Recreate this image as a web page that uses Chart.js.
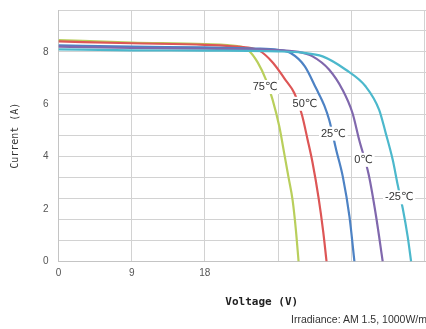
<!DOCTYPE html>
<html>
<head>
<meta charset="utf-8">
<script src="https://cdn.jsdelivr.net/npm/chart.js@4.4.1/dist/chart.umd.min.js"></script>
<style>
  html, body { margin: 0; padding: 0; background: #fff; overflow: hidden; }
  #wrap { position: relative; width: 471px; height: 329px; }
  #note {
    position: absolute; left: 291px; top: 313px;
    font: 10.5px "Liberation Sans", Arial, sans-serif; color: #333;
    white-space: nowrap;
  }
</style>
</head>
<body>
<div id="wrap">
  <canvas id="ivChart" width="471" height="329"></canvas>
  <div id="note">Irradiance: AM 1.5, 1000W/m²</div>
</div>
<script>
// I-V curves at different cell temperatures
const temps = ['75℃', '50℃', '25℃', '0℃', '-25℃'];
const colors = ['#b9cf5c', '#dd5656', '#4d82c4', '#8068ad', '#4cb8cc'];

const v75 = [0, 9, 18, 22, 23.3, 24.5, 25.5, 26.34, 27.16, 27.78, 28.3, 28.79, 29.2, 29.53];
const i75 = [8.45, 8.36, 8.3, 8.22, 8.08, 7.6, 6.95, 6.17, 5.15, 4.1, 3.2, 2.35, 1.2, 0];

const v50 = [0, 9, 18, 22, 24.7, 26.4, 27.8, 29.0, 29.94, 30.64, 31.25, 31.99, 32.56, 32.97];
const i50 = [8.4, 8.33, 8.27, 8.2, 8.05, 7.58, 6.98, 6.43, 5.6, 4.65, 3.77, 2.43, 1.14, 0];

const v25 = [0, 9, 18, 24, 27, 28.6, 30.3, 31.7, 32.7, 33.3, 34.16, 34.97, 35.79, 36.4];
const i25 = [8.25, 8.2, 8.17, 8.13, 8.08, 7.95, 7.45, 6.6, 5.95, 5.4, 4.26, 3.24, 1.71, 0];

const v0 = [0, 9, 18, 26, 29.5, 31.25, 33.3, 34.93, 36.16, 36.98, 38.16, 39.07, 39.88];
const i0 = [8.2, 8.15, 8.12, 8.08, 8.0, 7.83, 7.32, 6.56, 5.67, 4.65, 3.31, 1.71, 0];

const vm25 = [0, 9, 18, 27, 30, 32.48, 35.34, 37.79, 39.44, 40.25, 41.11, 41.72, 42.34, 42.95, 43.37];
const im25 = [8.1, 8.06, 8.05, 8.02, 7.97, 7.83, 7.32, 6.68, 5.79, 4.9, 3.88, 2.93, 2.03, 0.95, 0];

// where the temperature tags sit (data coords)
const labelV = [25.4, 30.3, 33.8, 37.5, 41.9];
const labelI = [6.66, 6.02, 4.88, 3.88, 2.45];

const curves = [[v75, i75], [v50, i50], [v25, i25], [v0, i0], [vm25, im25]];

const tickFont = { family: '"Liberation Sans", Arial, sans-serif', size: 10 };

// draws the temperature tags on a white box over the curves
const tagPlugin = {
    id: 'tempTags',
    afterDatasetsDraw(chart) {
        const ctx = chart.ctx;
        const xs = chart.scales.x, ys = chart.scales.y;
        ctx.save();
        ctx.font = '11px "Liberation Sans", "DejaVu Sans", sans-serif';
        ctx.textAlign = 'center';
        ctx.textBaseline = 'middle';
        temps.forEach((t, k) => {
            const px = xs.getPixelForValue(labelV[k]);
            const py = ys.getPixelForValue(labelI[k]);
            const w = ctx.measureText(t).width;
            ctx.fillStyle = '#fff';
            ctx.fillRect(px - w / 2 - 2, py - 7, w + 4, 14);
            ctx.fillStyle = '#333';
            ctx.fillText(t, px, py);
        });
        ctx.restore();
    }
};

// no extra room above/below the y axes for half tick labels
function noPad(s, w) {
    s.width = w;
    s.paddingTop = 0;
    s.paddingBottom = 0;
}

new Chart(document.getElementById('ivChart'), {
    type: 'scatter',
    data: {
        datasets: curves.map((c, k) => ({
            label: temps[k],
            data: c[0].map((v, j) => ({ x: v, y: c[1][j] })),
            showLine: true,
            borderColor: colors[k],
            backgroundColor: colors[k],
            borderWidth: 2.2,
            pointRadius: 0,
            cubicInterpolationMode: 'monotone'
        })).reverse()
    },
    options: {
        responsive: false,
        animation: false,
        layout: { padding: { left: 5, top: 10, right: 0, bottom: 20 } },
        plugins: {
            legend: { display: false },
            tooltip: { enabled: false }
        },
        scales: {
            x: {
                type: 'linear',
                min: 0,
                max: 50,
                ticks: {
                    stepSize: 9,
                    color: '#555',
                    font: tickFont,
                    padding: 6,
                    maxRotation: 0,
                    callback: v => (v <= 18 ? v : '')
                },
                grid: { color: '#d2d2d2', drawTicks: false },
                border: { color: '#c4c4c4' },
                title: {
                    display: true,
                    text: 'Voltage (V)',
                    color: '#222',
                    font: { family: '"DejaVu Sans Mono", monospace', size: 11, weight: 'bold' },
                    padding: { top: 0, bottom: 0 }
                },
                afterFit: s => { s.height = 47.5; }
            },
            y: {
                type: 'linear',
                position: 'left',
                min: 0,
                max: 9.6,
                ticks: { stepSize: 0.8, display: false },
                grid: { color: '#d2d2d2', drawTicks: false },
                border: { color: '#c4c4c4' },
                afterFit: s => noPad(s, 0)
            },
            yl: {
                type: 'linear',
                position: 'left',
                min: 0,
                max: 9.6,
                ticks: {
                    stepSize: 2,
                    color: '#555',
                    font: tickFont,
                    padding: 10,
                    callback: v => (v % 2 === 0 ? v : '')
                },
                grid: { display: false, drawTicks: false },
                border: { display: false },
                title: {
                    display: true,
                    text: 'Current (A)',
                    color: '#333',
                    font: { family: '"DejaVu Sans Mono", monospace', size: 10 },
                    padding: { top: 4, bottom: 0 }
                },
                afterFit: s => noPad(s, 53.5)
            }
        }
    },
    plugins: [tagPlugin]
});
</script>
</body>
</html>
